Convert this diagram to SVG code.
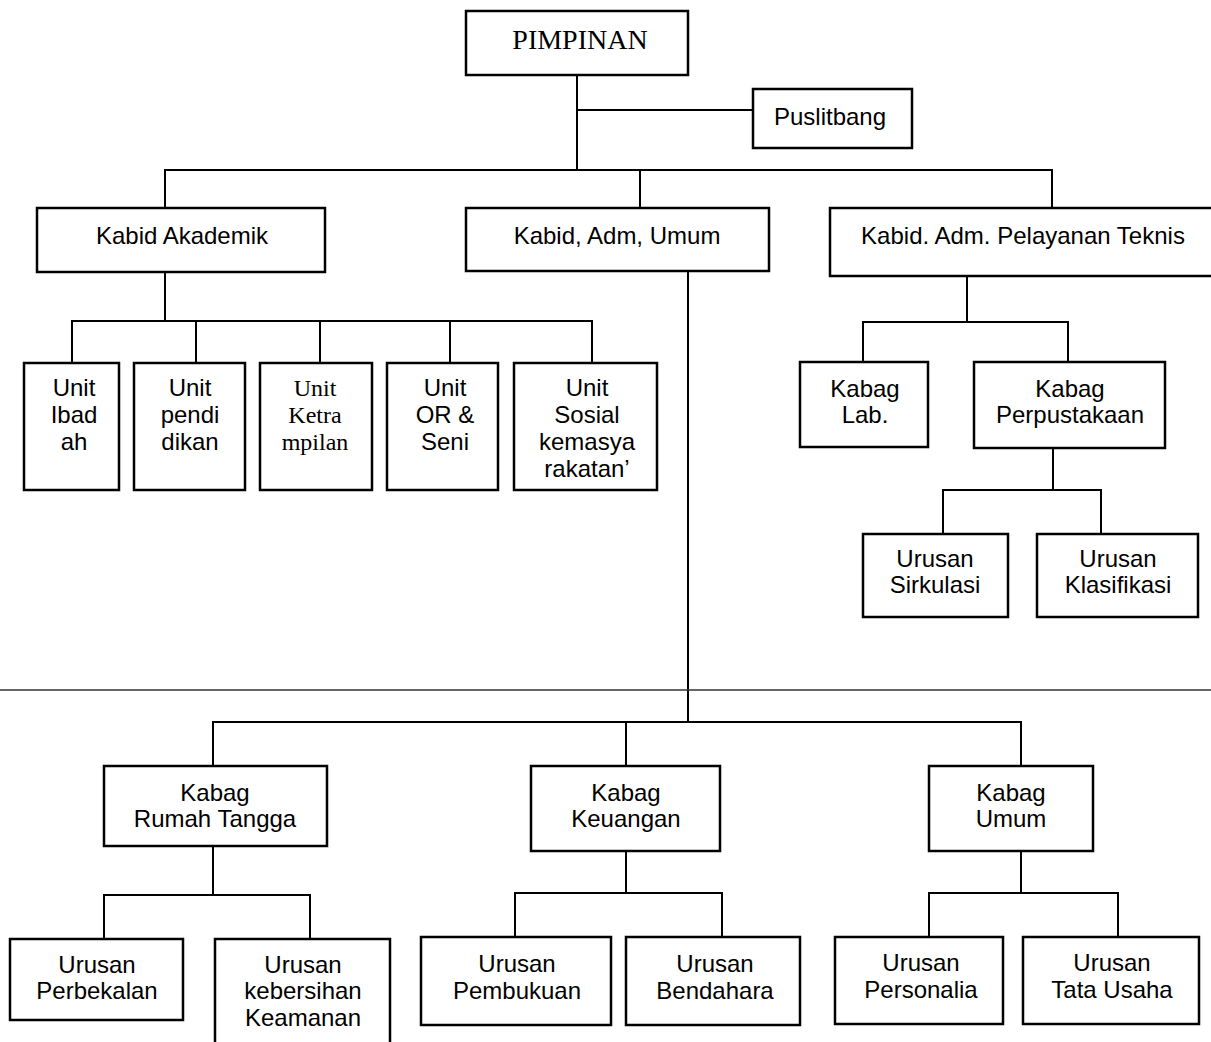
<svg xmlns="http://www.w3.org/2000/svg" width="1211" height="1042" viewBox="0 0 1211 1042">
  <style>
    .box { fill: #fff; stroke: #000; stroke-width: 2.5; }
    .ln { fill: none; stroke: #000; stroke-width: 2; }
    .sep { fill: none; stroke: #333; stroke-width: 1.3; }
    text { font-family: "Liberation Sans", Arial, sans-serif; font-size: 24px; text-anchor: middle; fill: #000; }
    .serif { font-family: "Liberation Serif", "Times New Roman", serif; }
    .head { font-size: 28px; }
  </style>
  <rect width="1211" height="1042" fill="#fff"/>

  <!-- connectors -->
  <g id="connectors">
    <path class="ln" d="M577 75 V170 M577 110 H753"/>
    <path class="ln" d="M165 208 V170 H1052 V208 M640 170 V208"/>
    <!-- Kabid Akademik to units -->
    <path class="ln" d="M165 272 V321 M72 363 V321 H592 V363 M196 321 V363 M320 321 V363 M450 321 V363"/>
    <!-- Kabid Pelayanan Teknis to Kabag -->
    <path class="ln" d="M967 276 V322 M863 362 V322 H1068 V362"/>
    <path class="ln" d="M1053 448 V490 M943 534 V490 H1101 V534"/>
    <!-- Kabid Adm Umum down to the Kabag row -->
    <path class="ln" d="M688 271 V722 M213 766 V722 H1021 V766 M626 722 V766"/>
    <path class="ln" d="M213 846 V895 M104 939 V895 H310 V939"/>
    <path class="ln" d="M626 851 V893 M515 937 V893 H722 V937"/>
    <path class="ln" d="M1021 851 V893 M929 937 V893 H1118 V937"/>
    <!-- page rule -->
    <path class="sep" d="M0 690 H1211"/>
  </g>

  <g id="pimpinan">
    <rect class="box" x="466" y="11" width="222" height="64"/>
    <text class="serif head" x="580" y="49">PIMPINAN</text>
  </g>
  <g id="puslitbang">
    <rect class="box" x="753" y="89" width="159" height="59"/>
    <text x="830" y="125">Puslitbang</text>
  </g>

  <g id="kabid-akademik">
    <rect class="box" x="37" y="208" width="288" height="64"/>
    <text x="182" y="244">Kabid Akademik</text>
  </g>
  <g id="kabid-adm-umum">
    <rect class="box" x="466" y="208" width="303" height="63"/>
    <text x="617" y="244">Kabid, Adm, Umum</text>
  </g>
  <g id="kabid-pelayanan-teknis">
    <rect class="box" x="830" y="208" width="390" height="68"/>
    <text x="1023" y="244">Kabid. Adm. Pelayanan Teknis</text>
  </g>

  <!-- units under Kabid Akademik -->
  <g id="unit-ibadah">
    <rect class="box" x="24" y="363" width="95" height="127"/>
    <text x="74" y="396">Unit</text>
    <text x="74" y="423">Ibad</text>
    <text x="74" y="450">ah</text>
  </g>
  <g id="unit-pendidikan">
    <rect class="box" x="134" y="363" width="111" height="127"/>
    <text x="190" y="396">Unit</text>
    <text x="190" y="423">pendi</text>
    <text x="190" y="450">dikan</text>
  </g>
  <g id="unit-ketrampilan">
    <rect class="box" x="260" y="363" width="112" height="127"/>
    <text class="serif" x="315" y="396">Unit</text>
    <text class="serif" x="315" y="423">Ketra</text>
    <text class="serif" x="315" y="450">mpilan</text>
  </g>
  <g id="unit-or-seni">
    <rect class="box" x="387" y="363" width="111" height="127"/>
    <text x="445" y="396">Unit</text>
    <text x="445" y="423">OR &amp;</text>
    <text x="445" y="450">Seni</text>
  </g>
  <g id="unit-sosial">
    <rect class="box" x="514" y="363" width="143" height="127"/>
    <text x="587" y="396">Unit</text>
    <text x="587" y="423">Sosial</text>
    <text x="587" y="450">kemasya</text>
    <text x="587" y="477">rakatan’</text>
  </g>

  <!-- Kabid Pelayanan Teknis branch -->
  <g id="kabag-lab">
    <rect class="box" x="800" y="362" width="128" height="85"/>
    <text x="865" y="397">Kabag</text>
    <text x="865" y="423">Lab.</text>
  </g>
  <g id="kabag-perpustakaan">
    <rect class="box" x="974" y="362" width="191" height="86"/>
    <text x="1070" y="397">Kabag</text>
    <text x="1070" y="423">Perpustakaan</text>
  </g>
  <g id="urusan-sirkulasi">
    <rect class="box" x="863" y="534" width="145" height="83"/>
    <text x="935" y="567">Urusan</text>
    <text x="935" y="593">Sirkulasi</text>
  </g>
  <g id="urusan-klasifikasi">
    <rect class="box" x="1037" y="534" width="161" height="83"/>
    <text x="1118" y="567">Urusan</text>
    <text x="1118" y="593">Klasifikasi</text>
  </g>

  <!-- Kabid Adm Umum branch -->
  <g id="kabag-rumah-tangga">
    <rect class="box" x="104" y="766" width="223" height="80"/>
    <text x="215" y="801">Kabag</text>
    <text x="215" y="827">Rumah Tangga</text>
  </g>
  <g id="kabag-keuangan">
    <rect class="box" x="531" y="766" width="189" height="85"/>
    <text x="626" y="801">Kabag</text>
    <text x="626" y="827">Keuangan</text>
  </g>
  <g id="kabag-umum">
    <rect class="box" x="929" y="766" width="164" height="85"/>
    <text x="1011" y="801">Kabag</text>
    <text x="1011" y="827">Umum</text>
  </g>

  <g id="urusan-perbekalan">
    <rect class="box" x="10" y="939" width="173" height="81"/>
    <text x="97" y="973">Urusan</text>
    <text x="97" y="999">Perbekalan</text>
  </g>
  <g id="urusan-kebersihan">
    <rect class="box" x="215" y="939" width="175" height="110"/>
    <text x="303" y="973">Urusan</text>
    <text x="303" y="999">kebersihan</text>
    <text x="303" y="1026">Keamanan</text>
  </g>
  <g id="urusan-pembukuan">
    <rect class="box" x="421" y="937" width="190" height="88"/>
    <text x="517" y="972">Urusan</text>
    <text x="517" y="999">Pembukuan</text>
  </g>
  <g id="urusan-bendahara">
    <rect class="box" x="626" y="937" width="174" height="88"/>
    <text x="715" y="972">Urusan</text>
    <text x="715" y="999">Bendahara</text>
  </g>
  <g id="urusan-personalia">
    <rect class="box" x="835" y="937" width="168" height="87"/>
    <text x="921" y="971">Urusan</text>
    <text x="921" y="998">Personalia</text>
  </g>
  <g id="urusan-tata-usaha">
    <rect class="box" x="1023" y="937" width="176" height="87"/>
    <text x="1112" y="971">Urusan</text>
    <text x="1112" y="998">Tata Usaha</text>
  </g>
</svg>
